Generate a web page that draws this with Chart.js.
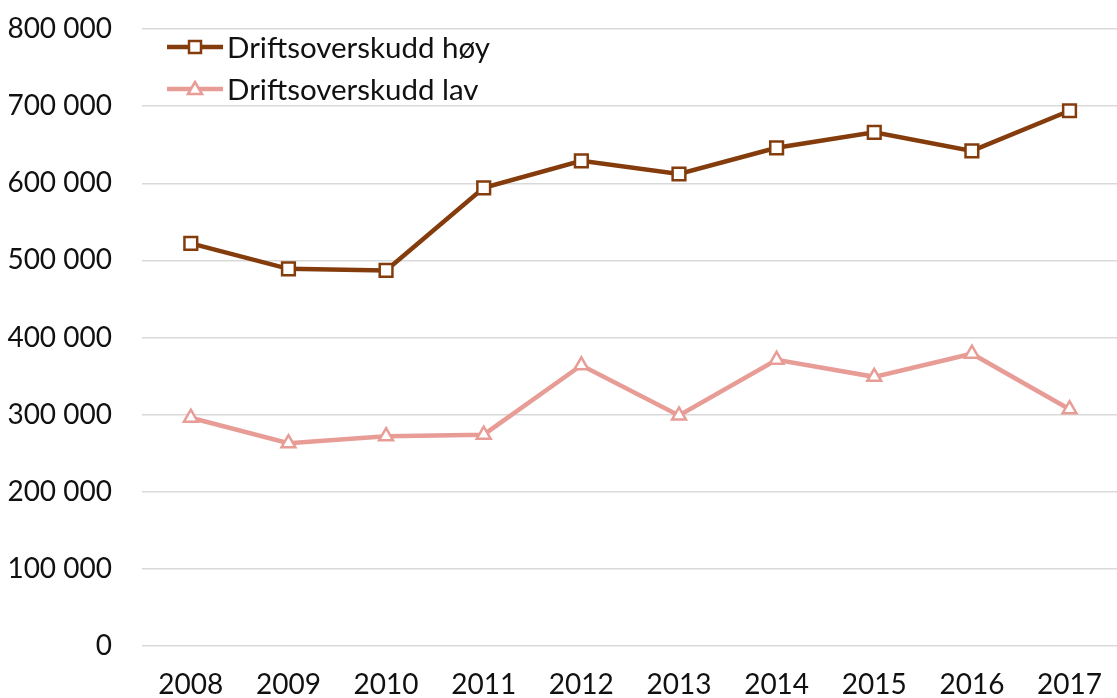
<!DOCTYPE html>
<html>
<head>
<meta charset="utf-8">
<script src="https://cdn.jsdelivr.net/npm/chart.js@4"></script>
<style>
  html, body { margin: 0; padding: 0; background: #fff; overflow: hidden; }
  #wrap { width: 1124px; height: 698px; }
</style>
</head>
<body>
<div id="wrap"><canvas id="chart" width="1124" height="698"></canvas></div>
<script>
// chart data
const years = ['2008', '2009', '2010', '2011', '2012', '2013', '2014', '2015', '2016', '2017'];
const hoy = [522000, 489000, 487000, 594000, 629000, 612000, 646000, 666000, 642000, 694000];
const lav = [296000, 263000, 272000, 274000, 364000, 299000, 371000, 349000, 379000, 307000];
const seriesNames = ['Driftsoverskudd høy', 'Driftsoverskudd lav'];

const brown = '#843c0c';
const pink = '#e89c96';
const fontFamily = 'Lato, "Open Sans", sans-serif';

// format 800000 as "800 000"
function fmt(v) {
    return String(v).replace(/\B(?=(\d{3})+(?!\d))/g, ' ');
}

// legend drawn inside the plot, top left
const insideLegend = {
    id: 'insideLegend',
    afterDraw(chart) {
        const ctx = chart.ctx;
        const area = chart.chartArea;
        ctx.save();
        chart.data.datasets.forEach((ds, i) => {
            const y = area.top + 18 + i * 42;
            const x0 = area.left + 25;
            ctx.strokeStyle = ds.borderColor;
            ctx.lineWidth = 4.5;
            ctx.beginPath();
            ctx.moveTo(x0, y);
            ctx.lineTo(x0 + 56, y);
            ctx.stroke();
            ctx.fillStyle = '#fff';
            ctx.lineWidth = 2.5;
            ctx.beginPath();
            const cx = x0 + 28;
            if (ds.pointStyle === 'rect') {
                ctx.rect(cx - 6, y - 6, 12, 12);
            } else {
                ctx.moveTo(cx, y - 7); ctx.lineTo(cx + 7, y + 5); ctx.lineTo(cx - 7, y + 5); ctx.closePath();
            }
            ctx.fill();
            ctx.stroke();
            ctx.fillStyle = '#111';
            ctx.font = '29.5px ' + fontFamily;
            ctx.textBaseline = 'middle';
            ctx.textAlign = 'left';
            ctx.fillText(ds.label, x0 + 60, y + 1);
        });
        ctx.restore();
    }
};

new Chart(document.getElementById('chart'), {
    type: 'line',
    data: {
        labels: years,
        datasets: [{
            label: seriesNames[0],
            data: hoy,
            borderColor: brown,
            borderWidth: 4.5,
            pointStyle: 'rect',
            pointRadius: 9,
            pointBorderWidth: 2.5,
            pointBackgroundColor: '#fff',
            pointBorderColor: brown,
            tension: 0
        }, {
            label: seriesNames[1],
            data: lav,
            borderColor: pink,
            borderWidth: 4.5,
            pointStyle: 'triangle',
            pointRadius: 8,
            pointBorderWidth: 2.5,
            pointBackgroundColor: '#fff',
            pointBorderColor: pink,
            tension: 0
        }]
    },
    options: {
        responsive: false,
        animation: false,
        layout: { autoPadding: false, padding: { top: 29, right: 0, left: 0, bottom: 0 } },
        plugins: {
            tooltip: { enabled: false },
            legend: { display: false },
            title: { display: false }
        },
        scales: {
            x: {
                offset: true,
                grid: { display: false, drawTicks: false },
                border: { display: false },
                ticks: {
                    color: '#111',
                    padding: 22,
                    maxRotation: 0,
                    font: { family: fontFamily, size: 28 }
                },
                afterFit: (s) => { s.height = 52; }
            },
            y: {
                min: 0,
                max: 800000,
                grid: { color: '#d9d9d9', lineWidth: 1.5, drawTicks: false },
                border: { display: false },
                ticks: {
                    stepSize: 100000,
                    color: '#111',
                    padding: 30,
                    font: { family: fontFamily, size: 28 },
                    callback: (v) => fmt(v)
                },
                // fixed axis width, and no extra room for the top label
                afterFit: (s) => { s.width = 142; s.paddingTop = 0; s.paddingBottom = 0; }
            }
        }
    },
    plugins: [insideLegend]
});
</script>
</body>
</html>
